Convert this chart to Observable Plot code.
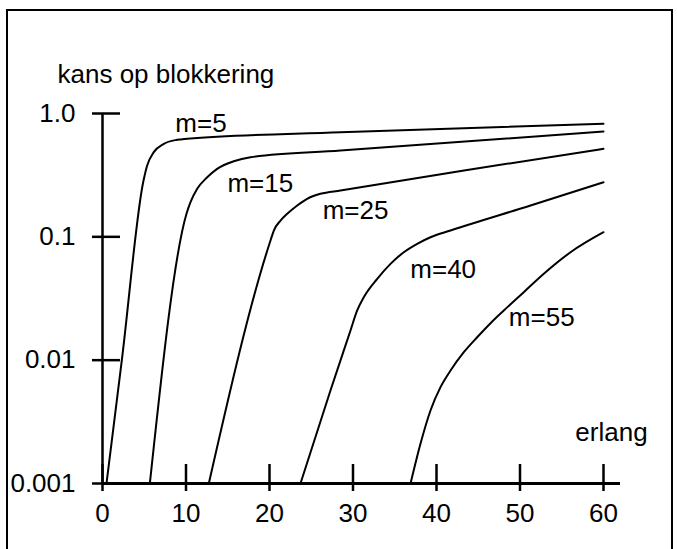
<!DOCTYPE html>
<html>
<head>
<meta charset="utf-8">
<script src="https://cdn.jsdelivr.net/npm/d3@7"></script>
<script src="https://cdn.jsdelivr.net/npm/@observablehq/plot@0.6"></script>
<style>
  html, body { margin: 0; padding: 0; background: #fff; }
  #wrap { position: relative; width: 677px; height: 549px; overflow: hidden; background: #fff; }
  #box { position: absolute; left: 6px; top: 9px; width: 667px; height: 560px; border: 2px solid #000; box-sizing: border-box; pointer-events: none; }
</style>
</head>
<body>
<div id="wrap"><div id="box"></div></div>
<script>
// ---- data ----
const seriesNames = ["m=5", "m=15", "m=25", "m=40", "m=55"];

const erlangM5  = [0.48, 2.36, 4.87, 5.35, 6.14, 7.34, 8.94, 10.14, 28.5, 60];
const kansM5    = [0.001, 0.0106, 0.277, 0.379, 0.486, 0.568, 0.612, 0.624, 0.705, 0.825];

const erlangM15 = [5.67, 10.06, 10.54, 11.34, 12.54, 13.73, 15.72, 17.72, 28.5, 60];
const kansM15   = [0.001, 0.154, 0.191, 0.245, 0.304, 0.356, 0.410, 0.442, 0.501, 0.715];

const erlangM25 = [12.73, 20.12, 20.52, 21.32, 22.12, 23.32, 24.51, 26.1, 28.5, 43.3, 60];
const kansM25   = [0.001, 0.0934, 0.1125, 0.1356, 0.1537, 0.1795, 0.2034, 0.2233, 0.2375, 0.345, 0.517];

const erlangM40 = [23.71, 27.3, 29.7, 30.5, 31.29, 32.9, 34.49, 36.08, 37.69, 39.28, 41.68, 51.26, 60];
const kansM40   = [0.001, 0.00568, 0.0174, 0.0253, 0.0324, 0.0457, 0.0604, 0.0750, 0.0878, 0.0993, 0.1125, 0.1795, 0.277];

const erlangM55 = [36.89, 38.08, 39.28, 40.48, 41.68, 43.27, 44.87, 46.47, 48.06, 50.45, 52.85, 56.05, 60];
const kansM55   = [0.001, 0.0021, 0.00391, 0.00604, 0.00824, 0.0116, 0.01535, 0.01994, 0.02527, 0.0356, 0.0502, 0.0750, 0.109];

const labelErlang = [11.8, 18.9, 30.3, 40.8, 52.6];
const labelKans   = [0.825, 0.269, 0.1635, 0.054, 0.0221];

const xTicks = [0, 10, 20, 30, 40, 50, 60];
const yTicks = [1, 0.1, 0.01, 0.001];
const yTickLabels = ["1.0", "0.1", "0.01", "0.001"];

const yTitle = ["kans op blokkering"];
const xTitle = ["erlang"];

// ---- build tables ----
const xs = [erlangM5, erlangM15, erlangM25, erlangM40, erlangM55];
const ys = [kansM5, kansM15, kansM25, kansM40, kansM55];
const rows = [];
seriesNames.forEach((s, k) => xs[k].forEach((x, i) => rows.push({series: s, x, y: ys[k][i]})));
const labels = seriesNames.map((s, i) => ({text: s, x: labelErlang[i], y: labelKans[i]}));
const yLabelMap = new Map(yTicks.map((t, i) => [t, yTickLabels[i]]));

const FONT = "'Liberation Sans', Arial, Helvetica, sans-serif";
const FS = 26;

const chart = Plot.plot({
  width: 677,
  height: 549,
  marginLeft: 102,
  marginRight: 74,
  marginTop: 113,
  marginBottom: 66,
  style: {fontFamily: FONT, fontSize: FS + "px", color: "#000", background: "transparent", overflow: "visible"},
  x: {domain: [0, 60]},
  y: {type: "log", domain: [0.001, 1]},
  marks: [
    Plot.ruleX([0], {strokeWidth: 2.5}),
    Plot.ruleY([0.001], {strokeWidth: 3, insetRight: -17}),
    Plot.axisY({ticks: yTicks, tickFormat: d => yLabelMap.get(d), tickSize: 28, dx: 18, tickPadding: 17, strokeWidth: 2.5, fontSize: FS, label: null}),
    Plot.axisX({ticks: xTicks, tickSize: 27, dy: -19, tickPadding: 12, strokeWidth: 2.5, fontSize: FS, label: null}),
    Plot.line(rows, {x: "x", y: "y", z: "series", stroke: "#000", strokeWidth: 2, curve: "monotone-x"}),
    Plot.text(labels, {x: "x", y: "y", text: "text", fontSize: FS, textAnchor: "middle", fill: "#000"}),
    Plot.text(yTitle, {frameAnchor: "top-left", dx: -45, dy: -49, textAnchor: "start", fontSize: FS, fill: "#000"}),
    Plot.text(xTitle, {frameAnchor: "bottom-right", dx: 8, dy: -43, textAnchor: "middle", fontSize: FS, fill: "#000"})
  ]
});
document.getElementById("wrap").insertBefore(chart, document.getElementById("box"));
chart.style.position = "absolute";
chart.style.left = "0";
chart.style.top = "0";
</script>
</body>
</html>
